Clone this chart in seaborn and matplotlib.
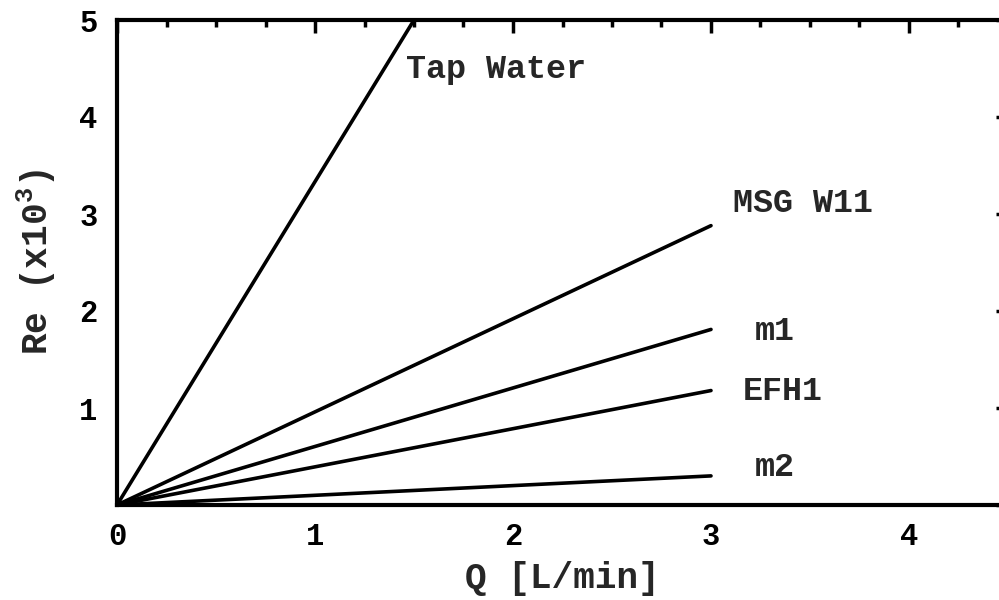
import matplotlib
matplotlib.use("Agg")
import matplotlib.pyplot as plt
import seaborn as sns
import pandas as pd
from matplotlib.ticker import MultipleLocator

series = ["Tap Water", "MSG W11", "m1", "EFH1", "m2"]
q_start = [0, 0, 0, 0, 0]
q_end = [1.5, 3, 3, 3, 3]
re_start = [0, 0, 0, 0, 0]
re_end = [5.0, 2.88, 1.81, 1.18, 0.30]
label_x = [1.46, 3.11, 3.22, 3.16, 3.22]
label_y = [4.49, 3.11, 1.79, 1.17, 0.39]

rows = []
for name, qa, qb, ra, rb in zip(series, q_start, q_end, re_start, re_end):
    rows.append({"series": name, "Q": qa, "Re": ra})
    rows.append({"series": name, "Q": qb, "Re": rb})
df = pd.DataFrame(rows)

sns.set_style("white")
plt.rcParams["font.family"] = ["Liberation Mono", "DejaVu Sans Mono"]
plt.rcParams["font.weight"] = "bold"
plt.rcParams["mathtext.fontset"] = "custom"
plt.rcParams["mathtext.bf"] = "Liberation Mono:bold"
plt.rcParams["mathtext.rm"] = "Liberation Mono:bold"

fig = plt.figure(figsize=(9.99, 6.0), dpi=100)
ax = fig.add_axes([117 / 999, 95 / 600, 891 / 999, 485 / 600])
sns.lineplot(data=df, x="Q", y="Re", units="series", estimator=None,
             color="black", linewidth=2.6, ax=ax, legend=False)
ax.set_xlim(0, 4.5)
ax.set_ylim(0, 5)
ax.xaxis.set_major_locator(MultipleLocator(1))
ax.xaxis.set_minor_locator(MultipleLocator(0.25))
ax.yaxis.set_major_locator(MultipleLocator(1))
ax.yaxis.set_minor_locator(MultipleLocator(0.25))
ax.set_yticks([0, 1, 2, 3, 4, 5])
ax.set_yticklabels(["", "1", "2", "3", "4", "5"])
ax.tick_params(which="both", direction="in", top=True, right=True,
               width=2.5, colors="black", labelsize=22)
ax.tick_params(axis="x", which="both", pad=12)
ax.tick_params(axis="y", which="both", pad=14)
ax.tick_params(which="major", length=9)
ax.tick_params(which="minor", length=5)
for s in ax.spines.values():
    s.set_linewidth(3)
    s.set_color("black")
for lbl in ax.get_xticklabels() + ax.get_yticklabels():
    lbl.set_fontweight("bold")
ax.set_xlabel("Q [L/min]", fontsize=26, fontweight="bold", labelpad=7)
ax.set_ylabel("Re (x10$^\\mathbf{3}$)", fontsize=26, fontweight="bold", labelpad=15)

for name, lx, ly in zip(series, label_x, label_y):
    ax.text(lx, ly, name, fontsize=24, fontweight="bold", va="center", ha="left")

fig.savefig("out.png", dpi=100)
